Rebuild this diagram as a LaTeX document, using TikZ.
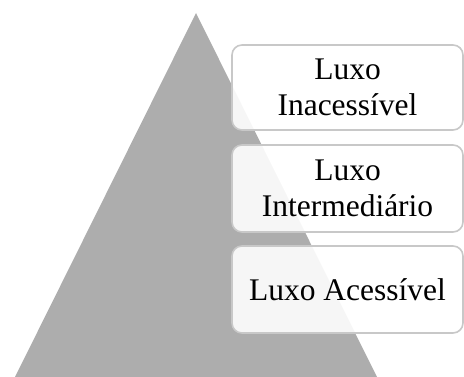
\documentclass[tikz,border=0pt]{standalone}
\usepackage{fontspec}
\setmainfont{Liberation Serif}
\usepackage{tikz}

\definecolor{pyrgray}{RGB}{173,173,173}
\definecolor{boxline}{RGB}{200,200,200}

\begin{document}
\begin{tikzpicture}[x=1pt, y=-1pt, every node/.style={font=\fontsize{31.5}{36}\selectfont}, lvlbox/.style={draw=boxline, line width=1.6pt, rounded corners=10pt, fill=white, fill opacity=0.9, text opacity=1, align=center, minimum width=231pt, inner sep=0pt}]
	\useasboundingbox (0,0) rectangle (464,377);
	\fill[pyrgray] (196,13) -- (377,377) -- (15,377) -- cycle;
	\node[lvlbox, minimum height=85pt] (top) at (347.5,87.5) {Luxo\\Inacessível};
	\node[lvlbox, minimum height=87pt] (mid) at (347.5,188.5) {Luxo\\Intermediário};
	\node[lvlbox, minimum height=87pt] (low) at (347.5,289.5) {Luxo Acessível};
\end{tikzpicture}
\end{document}
